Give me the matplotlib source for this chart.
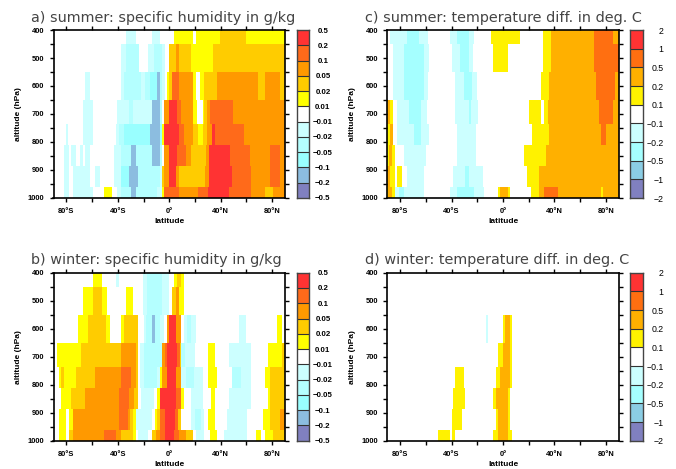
import matplotlib
matplotlib.use('Agg')
import matplotlib.pyplot as plt
from matplotlib.colors import ListedColormap, BoundaryNorm

# pressure band edges (hPa), top to bottom
p_edges = [400, 450, 550, 650, 735, 812, 885, 962, 1000]

q_levels = [-0.5, -0.2, -0.1, -0.05, -0.02, -0.01, 0.01, 0.02, 0.05, 0.1, 0.2, 0.5]
q_colors = ['#8080c0', '#8cbde0', '#99ffff', '#b4ffff', '#ccffff', '#ffffff',
            '#ffff00', '#ffcc00', '#ff9900', '#ff6a1a', '#ff3333']
t_levels = [-2, -1, -0.5, -0.2, -0.1, 0.1, 0.2, 0.5, 1, 2]
t_colors = ['#8080c0', '#8bcde4', '#a5ffff', '#ccffff', '#ffffff',
            '#fff200', '#ffb000', '#ff6f11', '#ff3333']

# each band: list of (latitude where the run ends, value)
a_summer_q = [
    [(-33.7, 0), (-26.2, -0.015), (-13.5, 0), (-7.3, -0.015), (3.6, 0), (18.7, 0.015), (20.8, 0), (39.4, 0.015),
     (59.7, 0.03), (90, 0.015)],
    [(-37.6, 0), (-33.7, -0.015), (-23.3, -0.03), (-16.3, 0), (-11.9, -0.015), (-5.7, -0.03), (-3.1, -0.015),
     (-0.3, 0), (5.2, 0.03), (7.5, 0.07), (16.9, 0.03), (33.7, 0.015), (90, 0.03)],
    [(-65.6, 0), (-61.7, -0.015), (-37.6, 0), (-35.3, -0.015), (-22, -0.03), (-18.7, -0.015), (-15, -0.03),
     (-9.6, -0.07), (-7.3, -0.15), (-5.7, -0.03), (-3.4, -0.015), (-1.6, 0), (-0.3, 0.015), (1.8, 0.03),
     (7.5, 0.15), (18.7, 0.07), (20.8, 0.015), (23.9, 0), (27, 0.015), (37.4, 0.03), (68.7, 0.07), (74.4, 0.03),
     (86.1, 0.07), (90, 0.03)],
    [(-66.9, 0), (-59.4, -0.015), (-41, 0), (-31.1, -0.015), (-28, -0.03), (-13.5, -0.015), (-7.3, -0.15),
     (-5.4, -0.03), (-3.9, 0), (-0.3, 0.07), (6, 0.3), (9.1, 0.15), (18.7, 0.07), (21.3, 0.015), (25.9, 0),
     (27.2, 0.015), (29.6, 0.03), (31.6, 0.07), (49.8, 0.15), (90, 0.07)],
    [(-80.4, 0), (-78.9, -0.015), (-66.9, 0), (-59.4, -0.015), (-41.5, 0), (-38.9, -0.015), (-35, -0.03),
     (-15, -0.07), (-7.3, -0.15), (-6, -0.07), (-3.9, 0.015), (7.5, 0.3), (11.2, 0.15), (18.7, 0.07), (22.6, 0.03),
     (25.9, 0.015), (29, 0.03), (33.2, 0.07), (35.5, 0.3), (58.4, 0.15), (90, 0.07)],
    [(-82, 0), (-78.3, -0.015), (-76.5, 0), (-72.6, -0.015), (-69.5, 0), (-67.4, -0.015), (-65.4, 0), (-61.7, -0.015),
     (-43.1, 0), (-37.9, -0.015), (-29.8, -0.03), (-25.9, -0.15), (-13.2, -0.03), (-7.3, -0.15), (-6, -0.03),
     (-3.9, 0), (-0.3, 0.07), (6, 0.3), (12.7, 0.15), (16.6, 0.07), (28.5, 0.03), (31.1, 0.07), (47.2, 0.3),
     (62.8, 0.15), (78.3, 0.07), (86.1, 0.15), (90, 0.07)],
    [(-82, 0), (-78.3, -0.015), (-75, 0), (-61.7, -0.015), (-57.8, 0), (-54, -0.015), (-43.1, 0), (-37.9, -0.015),
     (-31.4, -0.07), (-24.4, -0.15), (-7.3, -0.03), (-5.7, -0.015), (-3.9, 0.03), (-0.3, 0.07), (5.2, 0.3),
     (7.5, 0.07), (27.8, 0.03), (31.1, 0.07), (48.5, 0.3), (63.3, 0.15), (78.3, 0.07), (86.1, 0.15), (90, 0.07)],
    [(-82, 0), (-78.1, -0.015), (-75, 0), (-59.4, -0.015), (-50.8, 0), (-44.6, 0.015), (-41, 0), (-37.9, -0.015),
     (-29.8, -0.03), (-25.9, -0.15), (-9.6, -0.03), (-6, -0.015), (-4.2, 0.015), (7.5, 0.15), (22.3, 0.07),
     (30.1, 0.15), (46.4, 0.3), (63.6, 0.15), (74.4, 0.07), (80.7, 0.03), (90, 0.07)],
]

b_winter_q = [
    [(-59.4, 0), (-52.4, 0.015), (-41.5, 0), (-39.2, -0.015), (-20.2, 0), (-17.4, -0.015), (-5.7, -0.03),
     (-0.3, -0.015), (3.6, 0), (6.2, 0.015), (9.1, 0.03), (11.4, 0.015), (90, 0)],
    [(-67.2, 0), (-59.4, 0.015), (-52.4, 0.03), (-48.5, 0.015), (-33.7, 0), (-28.3, 0.015), (-20.2, 0),
     (-17.4, -0.015), (-5.7, -0.03), (-0.3, -0.015), (2.1, 0), (5.2, 0.03), (7.5, 0.07), (11.4, 0.015), (90, 0)],
    [(-71.1, 0), (-63.3, 0.015), (-49.3, 0.03), (-46.2, 0.015), (-37.6, 0), (-35.3, 0.015), (-24.4, 0.03),
     (-19.7, 0), (-18.2, -0.015), (-13.5, -0.03), (-11.2, -0.15), (-7.3, -0.03), (-4.2, -0.015), (-1.6, 0),
     (-0.3, 0.07), (5.2, 0.3), (9.1, 0.07), (11.4, 0), (13.7, -0.015), (16.9, -0.03), (20.8, -0.015), (54.2, 0),
     (59.7, -0.015), (83.8, 0), (87.7, 0.015), (90, 0)],
    [(-87.4, 0), (-68.7, 0.015), (-37.6, 0.03), (-25.9, 0.07), (-24.4, 0.03), (-22.8, 0), (-19.7, -0.015),
     (-5.7, -0.03), (-3.4, 0.07), (-1.6, 0.15), (6, 0.3), (8.3, 0.15), (9.1, 0.03), (12.2, -0.03), (20, -0.015),
     (30.4, 0), (35.5, 0.015), (46.4, 0), (63.6, -0.015), (76.8, 0), (87.7, 0.015), (90, 0.03)],
    [(-85.9, 0), (-84.3, 0.015), (-82, 0.03), (-72.6, 0.015), (-57.8, 0.03), (-37.6, 0.07), (-29.8, 0.15),
     (-25.9, 0.07), (-24.4, 0.03), (-22.8, 0), (-19.7, -0.015), (-9.6, -0.03), (-7.3, -0.015), (-5.7, 0.015),
     (-1.8, 0.07), (5.2, 0.3), (9.1, 0.07), (13, -0.015), (19.2, -0.03), (26.4, -0.015), (30.4, 0), (37.2, 0.015),
     (48.5, 0), (55.5, -0.03), (63.6, -0.015), (74.4, 0), (78.3, 0.015), (90, 0.03)],
    [(-84.3, 0), (-76.5, 0.015), (-65.6, 0.03), (-39.2, 0.07), (-31.4, 0.15), (-27.5, 0.07), (-24.4, 0.03), (-22, 0),
     (-11.9, -0.015), (-9.6, 0), (-7.3, 0.015), (5.2, 0.3), (9.1, 0.15), (11.4, 0.015), (16.9, 0), (26.2, -0.015),
     (32.4, 0), (35.5, 0.015), (46.4, 0), (63.6, -0.015), (76.8, 0), (78.3, 0.015), (90, 0.03)],
    [(-85.6, 0), (-80.4, 0.015), (-78.1, 0), (-75, 0.015), (-39.2, 0.07), (-32.2, 0.15), (-30.6, 0.07), (-28.3, 0.03),
     (-25.9, 0.015), (-13.5, -0.015), (-11.2, 0), (-9.6, 0.015), (-7.3, 0.03), (-3.4, 0.15), (4.4, 0.3), (6.7, 0.15),
     (9.1, 0.03), (16.9, 0), (20, -0.015), (24.6, -0.03), (27, -0.015), (30.1, 0), (35.5, 0.015), (44.9, 0),
     (60.4, -0.015), (72.9, 0), (78.3, 0.015), (86.1, 0.03), (90, 0.07)],
    [(-85.9, 0), (-80.4, 0.015), (-78.1, 0), (-75, 0.03), (-50.8, 0.07), (-41.5, 0.15), (-37.6, 0.07), (-28.3, 0.03),
     (-25.9, 0.015), (-24.4, 0), (-16.6, -0.015), (-13.5, 0), (-10.4, 0.03), (-7.3, 0.07), (-3.4, 0.15), (3.6, 0.3),
     (7.5, 0.15), (13, 0.07), (18.4, 0.03), (20.8, 0), (27, -0.015), (31.6, 0), (37.1, 0.015), (42.5, 0),
     (60.4, -0.015), (67.4, 0), (71.3, 0.015), (74.4, 0), (80.7, 0.015), (90, 0.03)],
]

c_summer_t = [
    [(-87.9, 0), (-74.7, -0.15), (-65.4, -0.35), (-58.4, -0.15), (-41.2, 0), (-35.8, -0.15), (-26.5, -0.35),
     (-22.6, -0.15), (-9.3, 0), (13.2, 0.15), (31.1, 0), (37.4, 0.15), (70.8, 0.35), (85.6, 0.7), (90, 0.35)],
    [(-85.6, 0), (-77, -0.15), (-61.5, -0.35), (-57.6, -0.15), (-39.7, 0), (-33.5, -0.15), (-26.5, -0.35),
     (-23.3, -0.15), (-7.8, 0), (3.9, 0.15), (31.1, 0), (37.4, 0.15), (70.8, 0.35), (90, 0.7)],
    [(-85.6, 0), (-77, -0.15), (-61.5, -0.35), (-58.4, -0.15), (-37.4, 0), (-30.4, -0.15), (-24.1, -0.35),
     (-20.2, -0.15), (29.6, 0), (35.8, 0.15), (72.4, 0.35), (87.2, 0.7), (90, 0.35)],
    [(-87.9, 0.35), (-85.6, 0.15), (-82.5, 0), (-73.2, -0.15), (-63.8, -0.35), (-59.1, -0.15), (-37.4, 0),
     (-26.5, -0.15), (-24.9, -0.35), (-19.5, -0.15), (20.2, 0), (29.6, 0.15), (31.9, 0), (35, 0.15), (74.7, 0.35),
     (85.6, 0.7), (90, 0.35)],
    [(-87.9, 0.15), (-85.6, 0.35), (-82.5, 0), (-69.3, -0.15), (-63.8, -0.35), (-57.6, -0.15), (-35.8, 0),
     (-21, -0.15), (22.6, 0), (35.8, 0.15), (76.3, 0.35), (80.2, 0.7), (90, 0.35)],
    [(-88.5, 0.15), (-86.1, 0.35), (-83.8, 0.15), (-77, 0), (-59.9, -0.15), (-35.8, 0), (-21, -0.15), (16.3, 0),
     (33.5, 0.15), (90, 0.35)],
    [(-87.9, 0.35), (-84, 0.15), (-82.5, 0), (-78.6, 0.15), (-74.7, 0), (-61.5, -0.15), (-38.9, 0), (-29.6, -0.15),
     (-26.5, -0.35), (-15.6, -0.15), (18.7, 0), (28, 0.15), (90, 0.35)],
    [(-89.5, 0.15), (-86.4, 0.35), (-84, 0.15), (-80.9, -0.15), (-77, -0.35), (-61.5, -0.15), (-41.2, 0),
     (-35.8, -0.15), (-22.6, -0.35), (-14.8, -0.15), (-3.9, 0), (-2.3, 0.15), (3.9, 0.35), (5.4, 0.15), (21.8, 0),
     (28, 0.15), (31.9, 0.35), (42.8, 0.7), (76.3, 0.35), (77.8, 0.15), (90, 0.35)],
]

d_winter_t = [
    [(90, 0)],
    [(90, 0)],
    [(-13.2, 0), (-11.7, -0.15), (0, 0), (1.6, 0.15), (5.4, 0.35), (7, 0.15), (90, 0)],
    [(-3.9, 0), (0, 0.15), (5.4, 0.35), (7, 0.15), (90, 0)],
    [(-37.4, 0), (-30.4, 0.15), (-5.4, 0), (-2.3, 0.15), (5.4, 0.35), (7, 0.15), (90, 0)],
    [(-38.9, 0), (-29.6, 0.15), (-7.8, 0), (-5.4, 0.15), (3.9, 0.35), (5.4, 0.15), (90, 0)],
    [(-39.7, 0), (-31.9, 0.15), (-5.4, 0), (-3.9, 0.15), (3.9, 0.35), (5.4, 0.15), (90, 0)],
    [(-50.6, 0), (-41.2, 0.15), (-39.7, 0), (-37.4, 0.15), (-7.8, 0), (-3.9, 0.15), (3.9, 0.35), (7, 0.15), (90, 0)],
]

lat_ticks = [-80, -60, -40, -20, 0, 20, 40, 60, 80]
lat_labels = ['80\u00b0S', '', '40\u00b0S', '', '0\u00b0', '', '40\u00b0N', '', '80\u00b0N']
p_ticks = list(range(400, 1001, 50))
p_labels = [str(p) if p % 100 == 0 else '' for p in p_ticks]

W, H = 676.0, 469.0
LABEL_FONT = 'Liberation Sans'


def make_axes(fig, x0, x1, y0, y1):
    return fig.add_axes([x0 / W, 1 - y1 / H, (x1 - x0) / W, (y1 - y0) / H])


def draw_panel(fig, x0, y0, rows, levels, colors, title, key_ha, key_pad, key_size, key_weight):
    cmap = ListedColormap(colors)
    norm = BoundaryNorm(levels, cmap.N)
    ax = make_axes(fig, x0, x0 + 231.5, y0, y0 + 168)
    for i, row in enumerate(rows):
        edges = [-90] + [r[0] for r in row]
        vals = [[r[1] for r in row]]
        ax.pcolormesh(edges, p_edges[i:i + 2], vals, cmap=cmap, norm=norm, linewidth=0, rasterized=True)
    ax.set_xlim(-90, 90)
    ax.set_ylim(1000, 400)
    ax.set_xticks(lat_ticks)
    ax.set_xticklabels(lat_labels)
    ax.set_yticks(p_ticks)
    ax.set_yticklabels(p_labels)
    ax.tick_params(direction='out', length=3, width=1, top=True, right=True, labelsize=5.4)
    ax.tick_params(axis='x', pad=4.5)
    ax.tick_params(axis='y', pad=3.4)
    for lab in ax.get_xticklabels() + ax.get_yticklabels():
        lab.set_fontweight('bold')
        lab.set_family(LABEL_FONT)
    for s in ax.spines.values():
        s.set_linewidth(1.2)
    ax.set_xlabel('latitude', fontsize=6, fontweight='bold', family=LABEL_FONT, labelpad=2)
    ax.set_ylabel('altitude (hPa)', fontsize=6, fontweight='bold', family=LABEL_FONT, labelpad=4.3)
    ax.set_title(title, fontsize=10.4, color='#444444', loc='left', x=-0.097, y=1.0, pad=6)

    # colour key
    cx = x0 + 243
    cax = make_axes(fig, cx, cx + 12.5, y0, y0 + 168)
    pos = list(range(len(levels)))
    cax.pcolormesh([0, 1], pos, [[c] for c in range(len(colors))], cmap=cmap, vmin=-0.5, vmax=len(colors) - 0.5)
    cax.set_xlim(0, 1)
    cax.set_ylim(0, len(levels) - 1)
    cax.set_xticks([])
    cax.yaxis.tick_right()
    cax.set_yticks(pos)
    cax.set_yticklabels([('%g' % v).replace('-', '\u2212') for v in levels], fontsize=key_size,
                        fontweight=key_weight, family=LABEL_FONT, ha=key_ha)
    cax.tick_params(axis='y', length=0, pad=key_pad)
    for p in pos[1:-1]:
        cax.axhline(p, color='#333333', linewidth=0.8)
    for s in cax.spines.values():
        s.set_linewidth(1)
        s.set_color('#444444')


fig = plt.figure(figsize=(6.76, 4.69), dpi=100)
draw_panel(fig, 53.5, 30, a_summer_q, q_levels, q_colors, 'a) summer: specific humidity in g/kg',
           'center', 10, 5.7, 'bold')
draw_panel(fig, 53.5, 272.7, b_winter_q, q_levels, q_colors, 'b) winter: specific humidity in g/kg',
           'center', 10, 5.7, 'bold')
draw_panel(fig, 387.3, 30, c_summer_t, t_levels, t_colors, 'c) summer: temperature diff. in deg. C',
           'right', 15, 6.3, 'normal')
draw_panel(fig, 387.3, 272.7, d_winter_t, t_levels, t_colors, 'd) winter: temperature diff. in deg. C',
           'right', 15, 6.3, 'normal')
fig.savefig('out.png', dpi=100)
